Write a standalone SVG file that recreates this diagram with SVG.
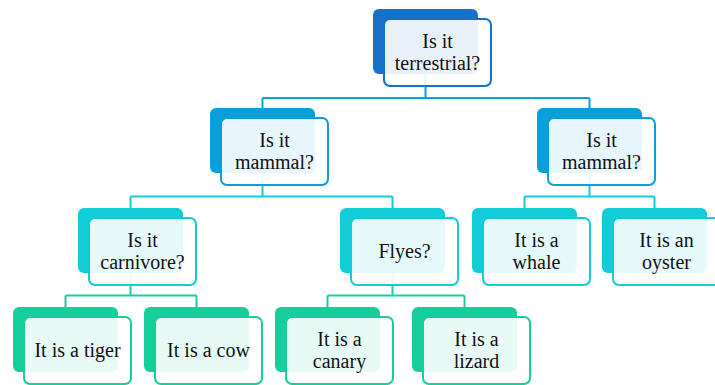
<svg xmlns="http://www.w3.org/2000/svg" width="715" height="385" viewBox="0 0 715 385">
  <style>
    .back { stroke: none; }
    .front { fill: #ffffff; fill-opacity: 0.9; stroke-width: 2; }
    .lbl { font-family: "Liberation Serif", "Times New Roman", serif; font-size: 20px; fill: #111111; text-anchor: middle; }
    .c1 { fill: #1672C8; } .s1 { stroke: #1672C8; }
    .c2 { fill: #0B9FD9; } .s2 { stroke: #0B9FD9; }
    .c3 { fill: #12CCD8; } .s3 { stroke: #12CCD8; }
    .c4 { fill: #16CE9A; } .s4 { stroke: #16CE9A; }
    .conn path { fill: none; stroke-width: 2; }
  </style>

  <rect width="715" height="385" fill="#ffffff"/>

  <g id="connectors" class="conn">
    <path d="M425.5 74 V98 M262.5 98 H589.5 M262.5 98 V108 M589.5 98 V108" stroke="#0B9FD9"/>
    <path d="M262.5 173 V196.5 M130.5 196.5 H392.5 M130.5 196.5 V208 M392.5 196.5 V208" stroke="#12CCD8"/>
    <path d="M589.5 173 V196.5 M524.5 196.5 H654.5 M524.5 196.5 V208 M654.5 196.5 V208" stroke="#12CCD8"/>
    <path d="M130.5 273 V295.5 M65.5 295.5 H196.5 M65.5 295.5 V307 M196.5 295.5 V307" stroke="#16CE9A"/>
    <path d="M392.5 273 V295.5 M327.5 295.5 H464.5 M327.5 295.5 V307 M464.5 295.5 V307" stroke="#16CE9A"/>
  </g>

  <!-- each node: solid back plate plus translucent front card offset by (11,10) -->
  <g id="terrestrial" transform="translate(373,9)">
    <rect class="back c1" width="105" height="65" rx="6"/>
    <rect class="front s1" x="11" y="10" width="107" height="67" rx="6"/>
    <text class="lbl" x="64.5" y="39">Is it</text>
    <text class="lbl" x="64.5" y="61">terrestrial?</text>
  </g>

  <g id="mammal-left" transform="translate(210,108)">
    <rect class="back c2" width="105" height="65" rx="6"/>
    <rect class="front s2" x="11" y="10" width="107" height="67" rx="6"/>
    <text class="lbl" x="64.5" y="39">Is it</text>
    <text class="lbl" x="64.5" y="61">mammal?</text>
  </g>

  <g id="mammal-right" transform="translate(537,108)">
    <rect class="back c2" width="105" height="65" rx="6"/>
    <rect class="front s2" x="11" y="10" width="107" height="67" rx="6"/>
    <text class="lbl" x="64.5" y="39">Is it</text>
    <text class="lbl" x="64.5" y="61">mammal?</text>
  </g>

  <g id="carnivore" transform="translate(78,208)">
    <rect class="back c3" width="105" height="65" rx="6"/>
    <rect class="front s3" x="11" y="10" width="107" height="67" rx="6"/>
    <text class="lbl" x="64.5" y="39">Is it</text>
    <text class="lbl" x="64.5" y="61">carnivore?</text>
  </g>

  <g id="flyes" transform="translate(340,208)">
    <rect class="back c3" width="105" height="65" rx="6"/>
    <rect class="front s3" x="11" y="10" width="107" height="67" rx="6"/>
    <text class="lbl" x="64.5" y="50">Flyes?</text>
  </g>

  <g id="whale" transform="translate(472,208)">
    <rect class="back c3" width="105" height="65" rx="6"/>
    <rect class="front s3" x="11" y="10" width="107" height="67" rx="6"/>
    <text class="lbl" x="64.5" y="39">It is a</text>
    <text class="lbl" x="64.5" y="61">whale</text>
  </g>

  <g id="oyster" transform="translate(602,208)">
    <rect class="back c3" width="105" height="65" rx="6"/>
    <rect class="front s3" x="11" y="10" width="107" height="67" rx="6"/>
    <text class="lbl" x="64.5" y="39">It is an</text>
    <text class="lbl" x="64.5" y="61">oyster</text>
  </g>

  <g id="tiger" transform="translate(13,307)">
    <rect class="back c4" width="105" height="65" rx="6"/>
    <rect class="front s4" x="11" y="10" width="107" height="67" rx="6"/>
    <text class="lbl" x="64.5" y="50">It is a tiger</text>
  </g>

  <g id="cow" transform="translate(144,307)">
    <rect class="back c4" width="105" height="65" rx="6"/>
    <rect class="front s4" x="11" y="10" width="107" height="67" rx="6"/>
    <text class="lbl" x="64.5" y="50">It is a cow</text>
  </g>

  <g id="canary" transform="translate(275,307)">
    <rect class="back c4" width="105" height="65" rx="6"/>
    <rect class="front s4" x="11" y="10" width="107" height="67" rx="6"/>
    <text class="lbl" x="64.5" y="39">It is a</text>
    <text class="lbl" x="64.5" y="61">canary</text>
  </g>

  <g id="lizard" transform="translate(412,307)">
    <rect class="back c4" width="105" height="65" rx="6"/>
    <rect class="front s4" x="11" y="10" width="107" height="67" rx="6"/>
    <text class="lbl" x="64.5" y="39">It is a</text>
    <text class="lbl" x="64.5" y="61">lizard</text>
  </g>
</svg>
